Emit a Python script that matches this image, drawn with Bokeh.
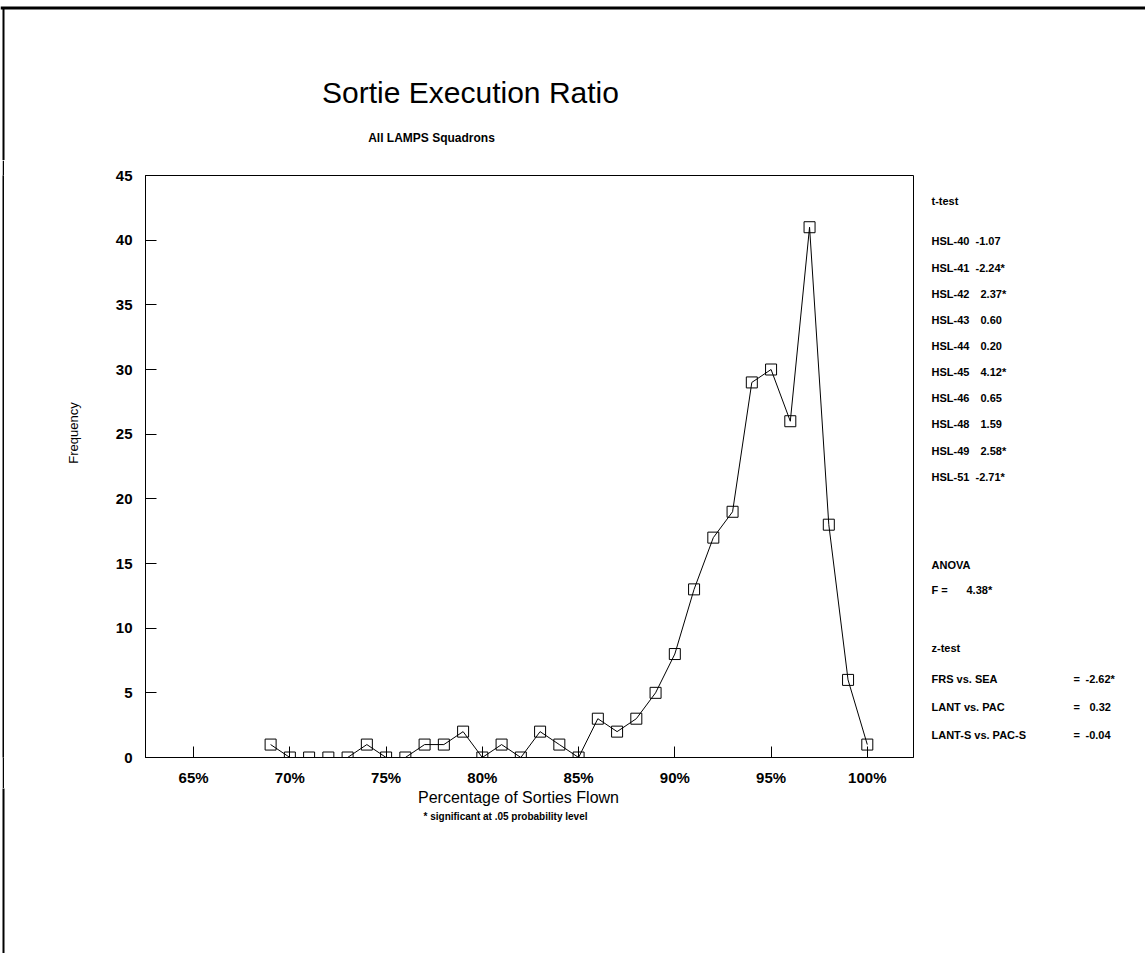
from bokeh.plotting import figure
from bokeh.models import Range1d, FixedTicker, Label, BoxAnnotation, Spacer
from bokeh.layouts import column, row
from bokeh.embed import file_html
from bokeh.resources import INLINE

# ---- data ----
pct_sorties = [69, 70, 71, 72, 73, 74, 75, 76, 77, 78, 79, 80, 81, 82, 83, 84,
               85, 86, 87, 88, 89, 90, 91, 92, 93, 94, 95, 96, 97, 98, 99, 100]
frequency = [1, 0, 0, 0, 0, 1, 0, 0, 1, 1, 2, 0, 1, 0, 2, 1,
             0, 3, 2, 3, 5, 8, 13, 17, 19, 29, 30, 26, 41, 18, 6, 1]
x_ticks = [65, 70, 75, 80, 85, 90, 95, 100]
x_tick_labels = ["65%", "70%", "75%", "80%", "85%", "90%", "95%", "100%"]
y_ticks = [0, 5, 10, 15, 20, 25, 30, 35, 40, 45]

t_test_names = ["HSL-40", "HSL-41", "HSL-42", "HSL-43", "HSL-44",
                "HSL-45", "HSL-46", "HSL-48", "HSL-49", "HSL-51"]
t_test_values = ["-1.07", "-2.24*", "2.37*", "0.60", "0.20",
                 "4.12*", "0.65", "1.59", "2.58*", "-2.71*"]
anova_f = "4.38*"
z_test_names = ["FRS vs. SEA", "LANT vs. PAC", "LANT-S vs. PAC-S"]
z_test_values = ["-2.62*", "0.32", "-0.04"]

FONT = "Liberation Sans"
PAGE_W, PAGE_H = 1145, 953
TOP_H, MID_H = 160, 628          # top strip 0..160, middle 160..788, bottom 788..953
EDGE_X, LEFT_X, MAIN_X, RIGHT_X = 2, 4, 90, 920
FL, FR, FT, FB = 145, 913, 175, 758   # chart frame edges on the page
MB_TOP, MB_BOTTOM = FT - TOP_H, TOP_H + MID_H - FB


def blank_fig(w, h, **kw):
    f = figure(width=w, height=h, output_backend="svg", toolbar_location=None,
               x_axis_type=None, y_axis_type=None, **kw)
    f.outline_line_color = None
    f.background_fill_color = "white"
    f.border_fill_color = "white"
    return f


def text_fig(x0, y0, w, h):
    """Full-frame figure whose data coordinates are page pixels (y downwards)."""
    return blank_fig(w, h, x_range=Range1d(x0, x0 + w), y_range=Range1d(y0 + h, y0),
                     min_border=0, min_border_left=0, min_border_right=0,
                     min_border_top=0, min_border_bottom=0)


def side_fig(x0, w):
    """Figure in the chart row; its frame lines up with the chart frame vertically."""
    return blank_fig(w, MID_H, x_range=Range1d(x0, x0 + w), y_range=Range1d(FB, FT),
                     min_border=0, min_border_left=0, min_border_right=0,
                     min_border_top=MB_TOP, min_border_bottom=MB_BOTTOM)


def put(f, px, py, s, size, style="bold", align="left", angle=0.0):
    f.add_layout(Label(x=px, y=py, text=s, text_font=FONT, text_font_size=size,
                       text_font_style=style, text_align=align,
                       text_baseline="middle", angle=angle, text_color="black"))


def page_edge(f, top=False):
    # scanned page border: thick line along the top, thin line down the left
    f.add_layout(BoxAnnotation(left=2, right=4, top=7, bottom=PAGE_H,
                               fill_color="black", fill_alpha=1, line_color=None))
    if top:
        f.add_layout(BoxAnnotation(left=0, right=PAGE_W, top=6, bottom=9,
                                   fill_color="black", fill_alpha=1, line_color=None))


# ---- top strip: title and subtitle ----
top = text_fig(0, 0, PAGE_W, TOP_H)
page_edge(top, top=True)
put(top, 470, 92, "Sortie Execution Ratio", "30px", style="normal", align="center")
put(top, 431, 137, "All LAMPS Squadrons", "12px", align="center")

# ---- left page edge in the chart row (a solid black sliver) ----
edge = blank_fig(LEFT_X - EDGE_X, MID_H, x_range=Range1d(0, 1), y_range=Range1d(0, 1),
                 min_border=0)
edge.background_fill_color = "black"
edge.border_fill_color = "black"

# ---- left strip: y axis title ----
left = side_fig(LEFT_X, MAIN_X - LEFT_X)
put(left, 73, 433, "Frequency", "13px", style="normal", align="center", angle=1.5708)

# ---- main chart ----
main = figure(width=RIGHT_X - MAIN_X, height=MID_H, output_backend="svg",
              toolbar_location=None,
              x_range=Range1d(62.5, 102.4), y_range=Range1d(0, 45),
              min_border_left=FL - MAIN_X, min_border_right=RIGHT_X - FR,
              min_border_top=MB_TOP, min_border_bottom=MB_BOTTOM)
main.background_fill_color = "white"
main.border_fill_color = "white"
main.grid.visible = False
main.outline_line_color = "black"
main.outline_line_width = 1

for ax in (main.xaxis[0], main.yaxis[0]):
    ax.axis_line_color = "black"
    ax.axis_line_width = 1
    ax.major_tick_in = 11
    ax.major_tick_out = 0
    ax.minor_tick_line_color = None
    ax.major_tick_line_color = "black"
    ax.major_label_text_font = FONT
    ax.major_label_text_font_style = "bold"
    ax.major_label_text_font_size = "15px"
    ax.major_label_text_color = "black"

main.xaxis.ticker = FixedTicker(ticks=x_ticks)
main.xaxis.major_label_overrides = dict(zip(x_ticks, x_tick_labels))
main.xaxis.major_label_standoff = 11
main.yaxis.ticker = FixedTicker(ticks=y_ticks)
main.yaxis.major_label_standoff = 13

main.line(pct_sorties, frequency, line_color="black", line_width=1)
main.scatter(pct_sorties, frequency, marker="square", size=11,
             fill_color="white", fill_alpha=0.0, line_color="black", line_width=1)

# ---- right strip: test statistics ----
right = side_fig(RIGHT_X, PAGE_W - RIGHT_X)
PX = 931
put(right, PX, 201, "t-test", "11px")
for i, (n, v) in enumerate(zip(t_test_names, t_test_values)):
    y = 241 + 26.2 * i
    put(right, PX, y, n, "11px")
    put(right, 975 if v.startswith("-") else 980, y, v, "11px")

put(right, PX, 565, "ANOVA", "11px")
put(right, PX, 590, "F =", "11px")
put(right, 966, 590, anova_f, "11px")

put(right, PX, 648, "z-test", "11px")
for i, (n, v) in enumerate(zip(z_test_names, z_test_values)):
    y = 679 + 28 * i
    put(right, PX, y, n, "11px")
    put(right, 1073, y, "=", "11px")
    put(right, 1085 if v.startswith("-") else 1089, y, v, "11px")

# ---- bottom strip: x axis title and footnote ----
bottom = text_fig(0, TOP_H + MID_H, PAGE_W, PAGE_H - TOP_H - MID_H)
page_edge(bottom)
put(bottom, 518, 797, "Percentage of Sorties Flown", "16px", style="normal", align="center")
put(bottom, 505, 816, "* significant at .05 probability level", "10px", align="center")

mid = row(Spacer(width=EDGE_X, height=MID_H), edge, left, main, right)
layout = column(top, mid, bottom)
open("out.html", "w").write(file_html(layout, INLINE))
